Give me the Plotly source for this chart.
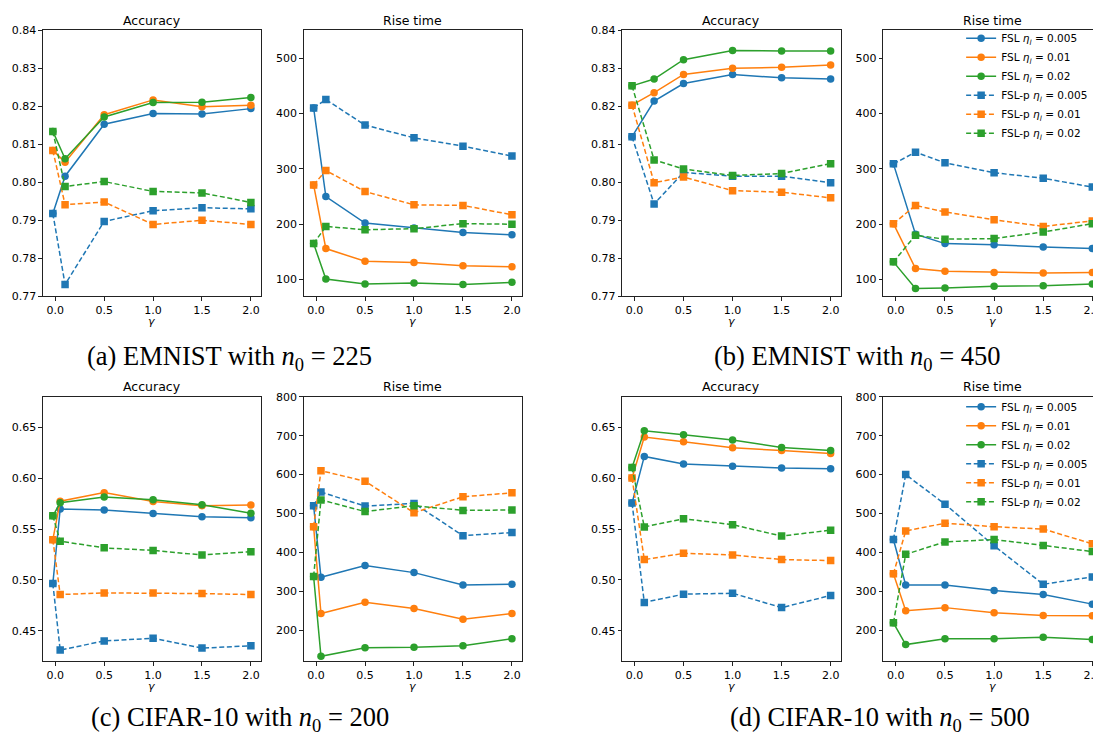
import plotly.graph_objects as go

# ---------------- data ----------------
gamma_a = [-0.025, 0.1, 0.5, 1.0, 1.5, 2.0]
gamma_b = [-0.025, 0.2, 0.5, 1.0, 1.5, 2.0]
gamma_c = [-0.025, 0.05, 0.5, 1.0, 1.5, 2.0]
gamma_d = [-0.025, 0.1, 0.5, 1.0, 1.5, 2.0]

series_names = [
    "FSL <i>η<sub>l</sub></i> = 0.005",
    "FSL <i>η<sub>l</sub></i> = 0.01",
    "FSL <i>η<sub>l</sub></i> = 0.02",
    "FSL-p <i>η<sub>l</sub></i> = 0.005",
    "FSL-p <i>η<sub>l</sub></i> = 0.01",
    "FSL-p <i>η<sub>l</sub></i> = 0.02",
]

# (a) EMNIST n0=225
acc_a = [
    [0.7918, 0.8016, 0.8153, 0.8181, 0.8180, 0.8194],
    [0.8084, 0.8053, 0.8178, 0.8217, 0.8199, 0.8203],
    [0.8134, 0.8062, 0.8172, 0.8210, 0.8211, 0.8223],
    [0.7918, 0.7731, 0.7897, 0.7925, 0.7933, 0.7930],
    [0.8084, 0.7941, 0.7948, 0.7889, 0.7900, 0.7889],
    [0.8134, 0.7989, 0.8002, 0.7976, 0.7972, 0.7947],
]
rise_a = [
    [410, 250, 202, 193, 185, 181],
    [271, 156, 133, 131, 125, 123],
    [165, 101, 92, 94, 91, 95],
    [410, 425, 379, 356, 341, 323],
    [271, 297, 259, 235, 234, 217],
    [165, 196, 190, 192, 201, 200],
]
# (b) EMNIST n0=450
acc_b = [
    [0.8120, 0.8214, 0.8260, 0.8284, 0.8275, 0.8272],
    [0.8203, 0.8236, 0.8284, 0.8300, 0.8303, 0.8309],
    [0.8254, 0.8272, 0.8323, 0.8347, 0.8346, 0.8346],
    [0.8120, 0.7943, 0.8026, 0.8016, 0.8016, 0.7999],
    [0.8203, 0.7999, 0.8014, 0.7978, 0.7974, 0.7959],
    [0.8254, 0.8059, 0.8035, 0.8018, 0.8023, 0.8049],
]
rise_b = [
    [309, 182, 165, 163, 159, 156],
    [201, 120, 115, 113, 112, 113],
    [132, 84, 85, 88, 89, 92],
    [309, 330, 311, 293, 283, 267],
    [201, 234, 222, 208, 196, 206],
    [132, 180, 173, 174, 186, 201],
]
# (c) CIFAR-10 n0=200
acc_c = [
    [0.4965, 0.5697, 0.5688, 0.5653, 0.5620, 0.5611],
    [0.5396, 0.5774, 0.5858, 0.5771, 0.5730, 0.5736],
    [0.5630, 0.5758, 0.5816, 0.5787, 0.5739, 0.5656],
    [0.4965, 0.4311, 0.4400, 0.4426, 0.4330, 0.4352],
    [0.5396, 0.4856, 0.4872, 0.4872, 0.4866, 0.4856],
    [0.5630, 0.5380, 0.5315, 0.5290, 0.5245, 0.5277],
]
rise_c = [
    [520, 336, 366, 348, 316, 318],
    [466, 243, 272, 256, 228, 243],
    [338, 133, 155, 156, 160, 178],
    [520, 555, 519, 526, 443, 451],
    [466, 610, 583, 502, 543, 553],
    [338, 535, 505, 520, 508, 509],
]
# (d) CIFAR-10 n0=500
acc_d = [
    [0.5755, 0.6214, 0.6140, 0.6118, 0.6099, 0.6092],
    [0.6002, 0.6404, 0.6359, 0.6298, 0.6272, 0.6243],
    [0.6105, 0.6465, 0.6426, 0.6375, 0.6301, 0.6272],
    [0.5755, 0.4779, 0.4860, 0.4869, 0.4728, 0.4847],
    [0.6002, 0.5200, 0.5261, 0.5245, 0.5200, 0.5190],
    [0.6105, 0.5521, 0.5601, 0.5543, 0.5431, 0.5489],
]
rise_d = [
    [433, 316, 316, 302, 292, 267],
    [345, 250, 258, 245, 238, 237],
    [219, 163, 178, 178, 182, 176],
    [433, 600, 524, 417, 318, 337],
    [345, 455, 475, 466, 460, 422],
    [219, 395, 427, 433, 418, 402],
]

captions = [
    "(a) EMNIST with <i>n</i><sub>0</sub> = 225",
    "(b) EMNIST with <i>n</i><sub>0</sub> = 450",
    "(c) CIFAR-10 with <i>n</i><sub>0</sub> = 200",
    "(d) CIFAR-10 with <i>n</i><sub>0</sub> = 500",
]

# ---------------- styling ----------------
# the page body has an 8px margin, so the figure is shifted by 8px
OFF = 8
W, H = 1101 - OFF, 741 - OFF
def fx(x):
    return (x - OFF) / W
def fy(y):
    return 1 - (y - OFF) / H

colors = ["#1f77b4", "#ff7f0e", "#2ca02c"] * 2
symbols = ["circle"] * 3 + ["square"] * 3
dashes = ["solid"] * 3 + ["5px,2.6px"] * 3

TOP = (24.7, 295.3)
BOT = (397.7, 667.0)
cols_px = [(43, 261), (304, 522.3), (622.7, 841.3), (884, 1101)]
xranges = [[-0.126, 2.101]] * 3 + [[-0.129, 2.078]]

panels = [
    # data, gamma, col, row, yrange, dtick, fmt, legend
    (acc_a, gamma_a, 0, TOP, [0.77, 0.84], 0.01, ".2f", None),
    (rise_a, gamma_a, 1, TOP, [70, 550], 100, "d", None),
    (acc_b, gamma_b, 2, TOP, [0.77, 0.84], 0.01, ".2f", None),
    (rise_b, gamma_b, 3, TOP, [70, 550], 100, "d", "legend"),
    (acc_c, gamma_c, 0, BOT, [0.42, 0.68], 0.05, ".2f", None),
    (rise_c, gamma_c, 1, BOT, [120, 800], 100, "d", None),
    (acc_d, gamma_d, 2, BOT, [0.42, 0.68], 0.05, ".2f", None),
    (rise_d, gamma_d, 3, BOT, [120, 800], 100, "d", "legend2"),
]
titles = ["Accuracy", "Rise time"] * 4

fig = go.Figure()
layout = {}
annotations = []
axis_col = "#222"
tickfont = dict(family="DejaVu Sans", size=11, color="black")

for i, (data, gam, col, row, yr, dt, fmt, leg) in enumerate(panels):
    n = i + 1
    xa = "x" if n == 1 else f"x{n}"
    ya = "y" if n == 1 else f"y{n}"
    for s in range(6):
        tr = go.Scatter(
            x=gam, y=data[s], mode="lines+markers",
            name=series_names[s],
            line=dict(color=colors[s], width=1.5, dash=dashes[s]),
            marker=dict(color=colors[s], symbol=symbols[s], size=7.5,
                        line=dict(width=0)),
            xaxis=xa, yaxis=ya,
            showlegend=leg is not None,
        )
        if leg is not None:
            tr.legend = leg
        fig.add_trace(tr)
    x0, x1 = cols_px[col]
    y0, y1 = row
    layout["xaxis" if n == 1 else f"xaxis{n}"] = dict(
        domain=[fx(x0), min(fx(x1), 1.0)], anchor=ya, range=xranges[col],
        tick0=0, dtick=0.5, tickformat=".1f", ticklabeloverflow="allow",
        showline=True, mirror=True, linecolor=axis_col, linewidth=1,
        ticks="outside", ticklen=3.5, tickwidth=1, tickcolor=axis_col,
        showgrid=False, zeroline=False, tickfont=tickfont,
    )
    layout["yaxis" if n == 1 else f"yaxis{n}"] = dict(
        domain=[fy(y1), fy(y0)], anchor=xa, range=yr,
        tick0=0, dtick=dt, tickformat=fmt, ticklabeloverflow="allow",
        showline=True, mirror=(col != 3), linecolor=axis_col, linewidth=1,
        ticks="outside", ticklen=3.5, tickwidth=1, tickcolor=axis_col,
        showgrid=False, zeroline=False, tickfont=tickfont,
    )
    xc = (x0 + x1) / 2 if col != 3 else (x0 + 1103) / 2
    annotations.append(dict(
        text=titles[i], x=fx(xc), y=fy(y0 - 10.5), xref="paper", yref="paper",
        showarrow=False, xanchor="center", yanchor="middle",
        font=dict(family="DejaVu Sans", size=12.5, color="black")))
    annotations.append(dict(
        text="<i>γ</i>", x=fx(xc), y=fy(y1 + 26), xref="paper", yref="paper",
        showarrow=False, xanchor="center", yanchor="middle",
        font=dict(family="DejaVu Sans", size=11, color="black")))

cap_pos = [(230, 358), (858, 358), (240, 726), (881, 726)]
for txt, (cx, cy) in zip(captions, cap_pos):
    annotations.append(dict(
        text=txt, x=fx(cx), y=fy(cy), xref="paper", yref="paper",
        showarrow=False, xanchor="center", yanchor="middle",
        font=dict(family="Liberation Serif", size=26.5, color="black")))

legend_style = dict(
    xanchor="left", yanchor="top", bgcolor="rgba(0,0,0,0)",
    borderwidth=0, font=dict(family="DejaVu Sans", size=10.5, color="black"),
    tracegroupgap=0, itemwidth=30,
)
layout["legend"] = dict(x=fx(962), y=fy(18), **legend_style)
layout["legend2"] = dict(x=fx(962), y=fy(393), **legend_style)

fig.update_layout(
    width=W, height=H,
    margin=dict(l=0, r=0, t=0, b=0),
    paper_bgcolor="white", plot_bgcolor="white",
    annotations=annotations,
    **layout,
)
fig.write_html("out.html")
